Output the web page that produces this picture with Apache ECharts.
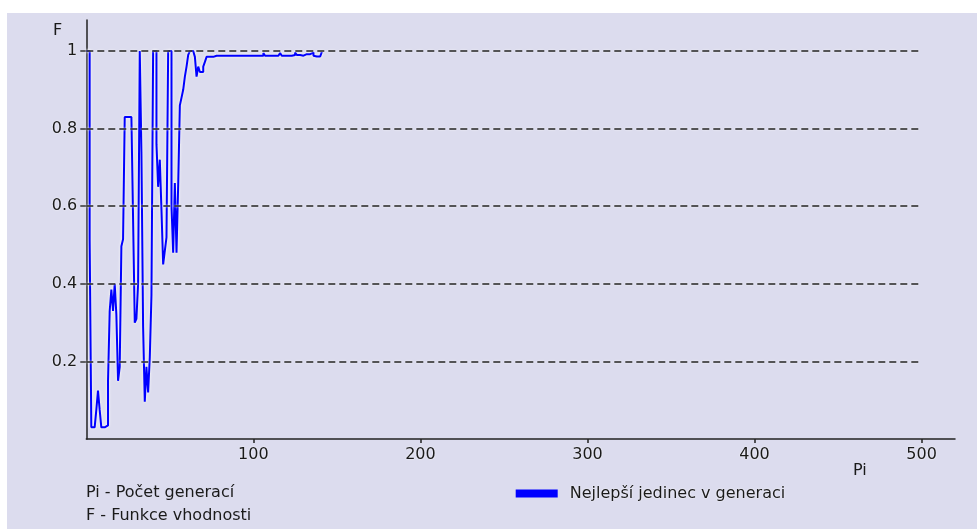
<!DOCTYPE html>
<html>
<head>
<meta charset="utf-8">
<script src="https://cdn.jsdelivr.net/npm/echarts@6/dist/echarts.min.js"></script>
<style>
html,body{margin:0;padding:0;background:#ffffff;}
#wrap{position:absolute;left:0;top:0;width:977px;height:529px;background:#ffffff;}
#chart{position:absolute;left:7px;top:13px;width:970px;height:516px;}
</style>
</head>
<body>
<div id="wrap"><div id="chart"></div></div>
<script>
// Best individual fitness per generation (generation index = position)
const fitness = [
  1.0, 1.0, 0.515, 0.03, 0.03, 0.03, 0.075, 0.125, 0.075, 0.03,
  0.03, 0.035, 0.035, 0.15, 0.33, 0.385, 0.33, 0.40, 0.32, 0.15,
  0.186, 0.497, 0.515, 0.83, 0.83, 0.83, 0.83, 0.83, 0.567, 0.30,
  0.31, 0.40, 1.0, 0.74, 0.29, 0.096, 0.186, 0.12, 0.21, 0.37,
  1.0, 1.0, 0.76, 0.65, 0.72, 0.59, 0.45, 0.485, 0.52, 1.0,
  1.0, 0.60, 0.48, 0.66, 0.48, 0.655, 0.86, 0.88, 0.90, 0.934,
  0.96, 0.99, 1.0, 1.0, 1.0, 0.985, 0.934, 0.96, 0.946, 0.946,
  0.96, 0.972, 0.985, 0.985, 0.985, 0.985, 0.985, 0.988, 0.988, 0.988,
  0.988, 0.988, 0.988, 0.988, 0.988, 0.988, 0.988, 0.988, 0.988, 0.988,
  0.988, 0.988, 0.988, 0.988, 0.988, 0.988, 0.988, 0.988, 0.988, 0.988,
  0.988, 0.988, 0.988, 0.988, 0.988, 0.988, 0.995, 0.988, 0.988, 0.988,
  0.988, 0.988, 0.988, 0.988, 0.988, 0.988, 0.995, 0.988, 0.988, 0.988,
  0.988, 0.988, 0.988, 0.988, 0.99, 0.996, 0.99, 0.99, 0.993, 0.988,
  0.988, 0.992, 0.992, 0.992, 0.994, 0.996, 0.988, 0.986, 0.986, 0.986,
  0.99, 0.998
];
const xTicks = [100, 200, 300, 400, 500];
const yTicks = [0.2, 0.4, 0.6, 0.8, 1];
const gridValues = [0.2, 0.4, 0.6, 0.8, 1];
const seriesName = 'Nejlepší jedinec v generaci';
const xName = 'Pi';
const yName = 'F';
const notes = ['Pi - Počet generací', 'F - Funkce vhodnosti'];

const FONT = 'DejaVu Sans';
const FS = 16;
const TXT = '#1a1a1a';
const GFONT = FS + 'px "DejaVu Sans"';

const lineData = fitness.map((v, i) => [i, v]);
const refLines = gridValues.map(v => [{coord: [0, v]}, {coord: [500, v]}]);

const chart = echarts.init(document.getElementById('chart'), null, {renderer: 'canvas'});
chart.setOption({
  animation: false,
  backgroundColor: '#dcdcee',
  grid: {left: 79.3, top: 7, width: 868.7, height: 419, containLabel: false},
  xAxis: {
    type: 'value', min: 0, max: 520,
    axisLine: {show: true, onZero: false, lineStyle: {color: '#222', width: 1.5}},
    axisTick: {show: true, length: 4, customValues: xTicks, lineStyle: {color: '#222', width: 1.5}},
    axisLabel: {customValues: xTicks, margin: 8, color: TXT, fontFamily: FONT, fontSize: FS,
      textShadowColor: '#fff', textShadowBlur: 2},
    splitLine: {show: false}
  },
  yAxis: {
    type: 'value', min: 0, max: 1.08,
    axisLine: {show: true, onZero: false, lineStyle: {color: '#222', width: 1.5}},
    axisTick: {show: true, length: 6, customValues: yTicks, lineStyle: {color: '#333', width: 1.5}},
    axisLabel: {customValues: yTicks, margin: 9, color: TXT, fontFamily: FONT, fontSize: FS,
      textShadowColor: '#fff', textShadowBlur: 2},
    splitLine: {show: false}
  },
  legend: {
    data: [{name: seriesName, icon: 'rect'}],
    left: 508.7, top: 471.5, padding: 0,
    itemWidth: 42, itemHeight: 8,
    textStyle: {color: TXT, fontFamily: FONT, fontSize: FS, padding: [0, 0, 0, 7], lineHeight: 18,
      textShadowColor: '#fff', textShadowBlur: 2}
  },
  graphic: [
    {type: 'text', left: 46, top: 9.5, style: {text: yName, font: GFONT, fill: TXT, shadowColor: '#fff', shadowBlur: 2}},
    {type: 'text', left: 846, top: 449.5, style: {text: xName, font: GFONT, fill: TXT, shadowColor: '#fff', shadowBlur: 2}},
    {type: 'text', left: 79, top: 472, style: {text: notes[0], font: GFONT, fill: TXT, shadowColor: '#fff', shadowBlur: 2}},
    {type: 'text', left: 79, top: 495, style: {text: notes[1], font: GFONT, fill: TXT, shadowColor: '#fff', shadowBlur: 2}}
  ],
  series: [
    {
      name: 'grid', type: 'line', data: [], z: 1, silent: true,
      markLine: {
        silent: true, symbol: 'none', label: {show: false},
        lineStyle: {color: '#222', type: [7, 4], width: 1.5, shadowColor: '#fff', shadowBlur: 2},
        data: refLines
      }
    },
    {
      name: seriesName, type: 'line', data: lineData, z: 3, step: 'end',
      showSymbol: false, symbol: 'none',
      color: '#0000ff',
      itemStyle: {color: '#0000ff'},
      lineStyle: {color: '#0000ff', width: 2, shadowColor: '#ffffff', shadowBlur: 3}
    }
  ]
});
</script>
</body>
</html>
